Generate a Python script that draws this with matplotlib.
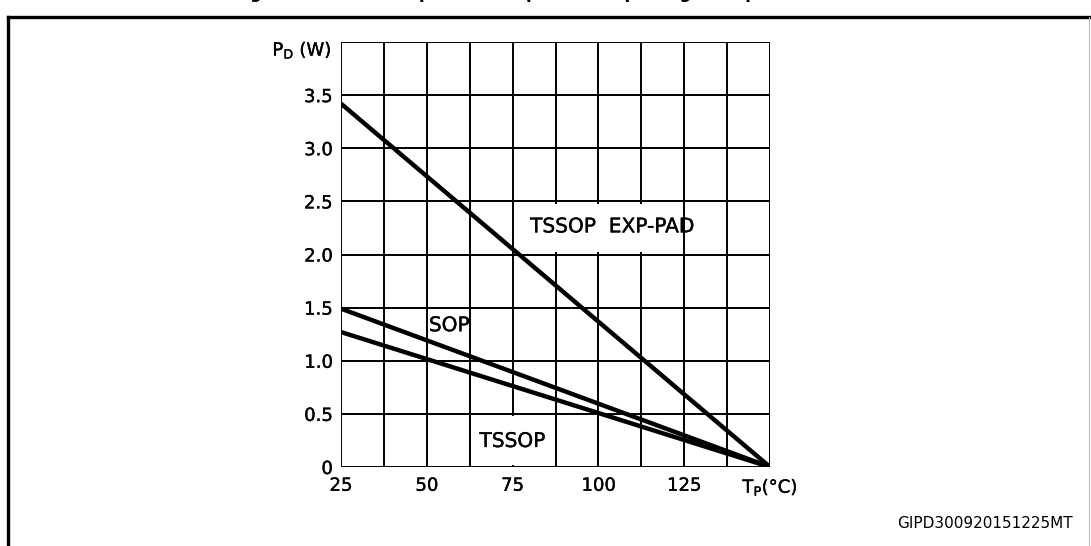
"""Power dissipation vs package temperature for the three package options."""

import matplotlib
matplotlib.use("Agg")
import matplotlib.pyplot as plt
import matplotlib.patheffects as pe
from matplotlib.lines import Line2D
from matplotlib.patches import Rectangle

# end points of each derating line (T_P in degC, P_D in W)
TEMPS = [25, 150]
TSSOP_EXP_PAD = [3.42, 0.0]
SOP = [1.49, 0.0]
TSSOP = [1.27, 0.0]

X_TICKS = [25, 50, 75, 100, 125, 150]
X_LABELS = ["25", "50", "75", "100", "125", r"T$_\mathregular{P}$(°C)"]
Y_TICKS = [0, 0.5, 1.0, 1.5, 2.0, 2.5, 3.0, 3.5]
Y_LABELS = ["0", "0.5", "1.0", "1.5", "2.0", "2.5", "3.0", "3.5"]

TITLE = "Figure 2. Maximum power dissipation vs. package temperature"
CODE = "GIPD300920151225MT"

W, H = 1091, 546
HEAVY = [pe.withStroke(linewidth=0.25, foreground="black")]


def plot():
    fig = plt.figure(figsize=(W / 100, H / 100), dpi=100)
    ax = fig.add_axes([341 / W, 79 / H, 429 / W, 425 / H])
    ax.set_xlim(25, 150)
    ax.set_ylim(0, 4)

    # grid: every 12.5 degC and every 0.5 W
    for x in [25 + 12.5 * i for i in range(11)]:
        ax.axvline(x, color="black", lw=1.4, zorder=1)
    for y in [0.5 * i for i in range(9)]:
        ax.axhline(y, color="black", lw=1.4, zorder=1)

    # blank cells behind the labels
    ax.add_patch(Rectangle((75.6, 2.02), 48.8, 0.46, color="white", lw=0, zorder=2))
    ax.add_patch(Rectangle((63.1, 0.02), 23.8, 0.46, color="white", lw=0, zorder=2))

    for vals in (TSSOP_EXP_PAD, SOP, TSSOP):
        ax.plot(TEMPS, vals, color="black", lw=3.2, solid_capstyle="butt", zorder=3)

    lbl = dict(va="center", fontsize=14.5, zorder=4, path_effects=HEAVY)
    ax.text(80.1, 2.26, "TSSOP  EXP-PAD", ha="left", **lbl)
    ax.text(50.6, 1.33, "SOP", ha="left", **lbl)
    ax.text(75, 0.24, "TSSOP", ha="center", **lbl)

    for s in ax.spines.values():
        s.set_visible(False)
    ax.set_xticks(X_TICKS)
    ax.set_xticklabels(X_LABELS, fontsize=13)
    ax.set_yticks(Y_TICKS)
    ax.set_yticklabels(Y_LABELS, fontsize=13)
    for t in ax.get_xticklabels() + ax.get_yticklabels():
        t.set_path_effects(HEAVY)
    ax.tick_params(length=0)
    ax.tick_params(axis="x", pad=7)
    ax.tick_params(axis="y", pad=6)
    ax.text(-0.022, 0.981, r"P$_\mathregular{D}$ (W)", transform=ax.transAxes,
            ha="right", va="center", fontsize=13, path_effects=HEAVY)

    # outer frame
    fig.add_artist(Line2D([8 / W, 8 / W], [0, 1 - 17 / H], color="black", lw=2.4))
    fig.add_artist(Line2D([8 / W, 1], [1 - 17 / H, 1 - 17 / H], color="black", lw=2.4))
    fig.add_artist(Line2D([1089 / W, 1089 / W], [0, 1 - 17 / H], color="#bbbbbb", lw=0.8))

    # title sits mostly above the crop, as in the source page
    fig.text(530 / W, 1 + 2 / H, TITLE, ha="center", va="baseline",
             fontsize=12, fontweight="bold")
    fig.text(1073 / W, 22 / H, CODE, ha="right", va="center", fontsize=11)

    fig.savefig("out.png", dpi=100)
    plt.close(fig)


if __name__ == "__main__":
    plot()
